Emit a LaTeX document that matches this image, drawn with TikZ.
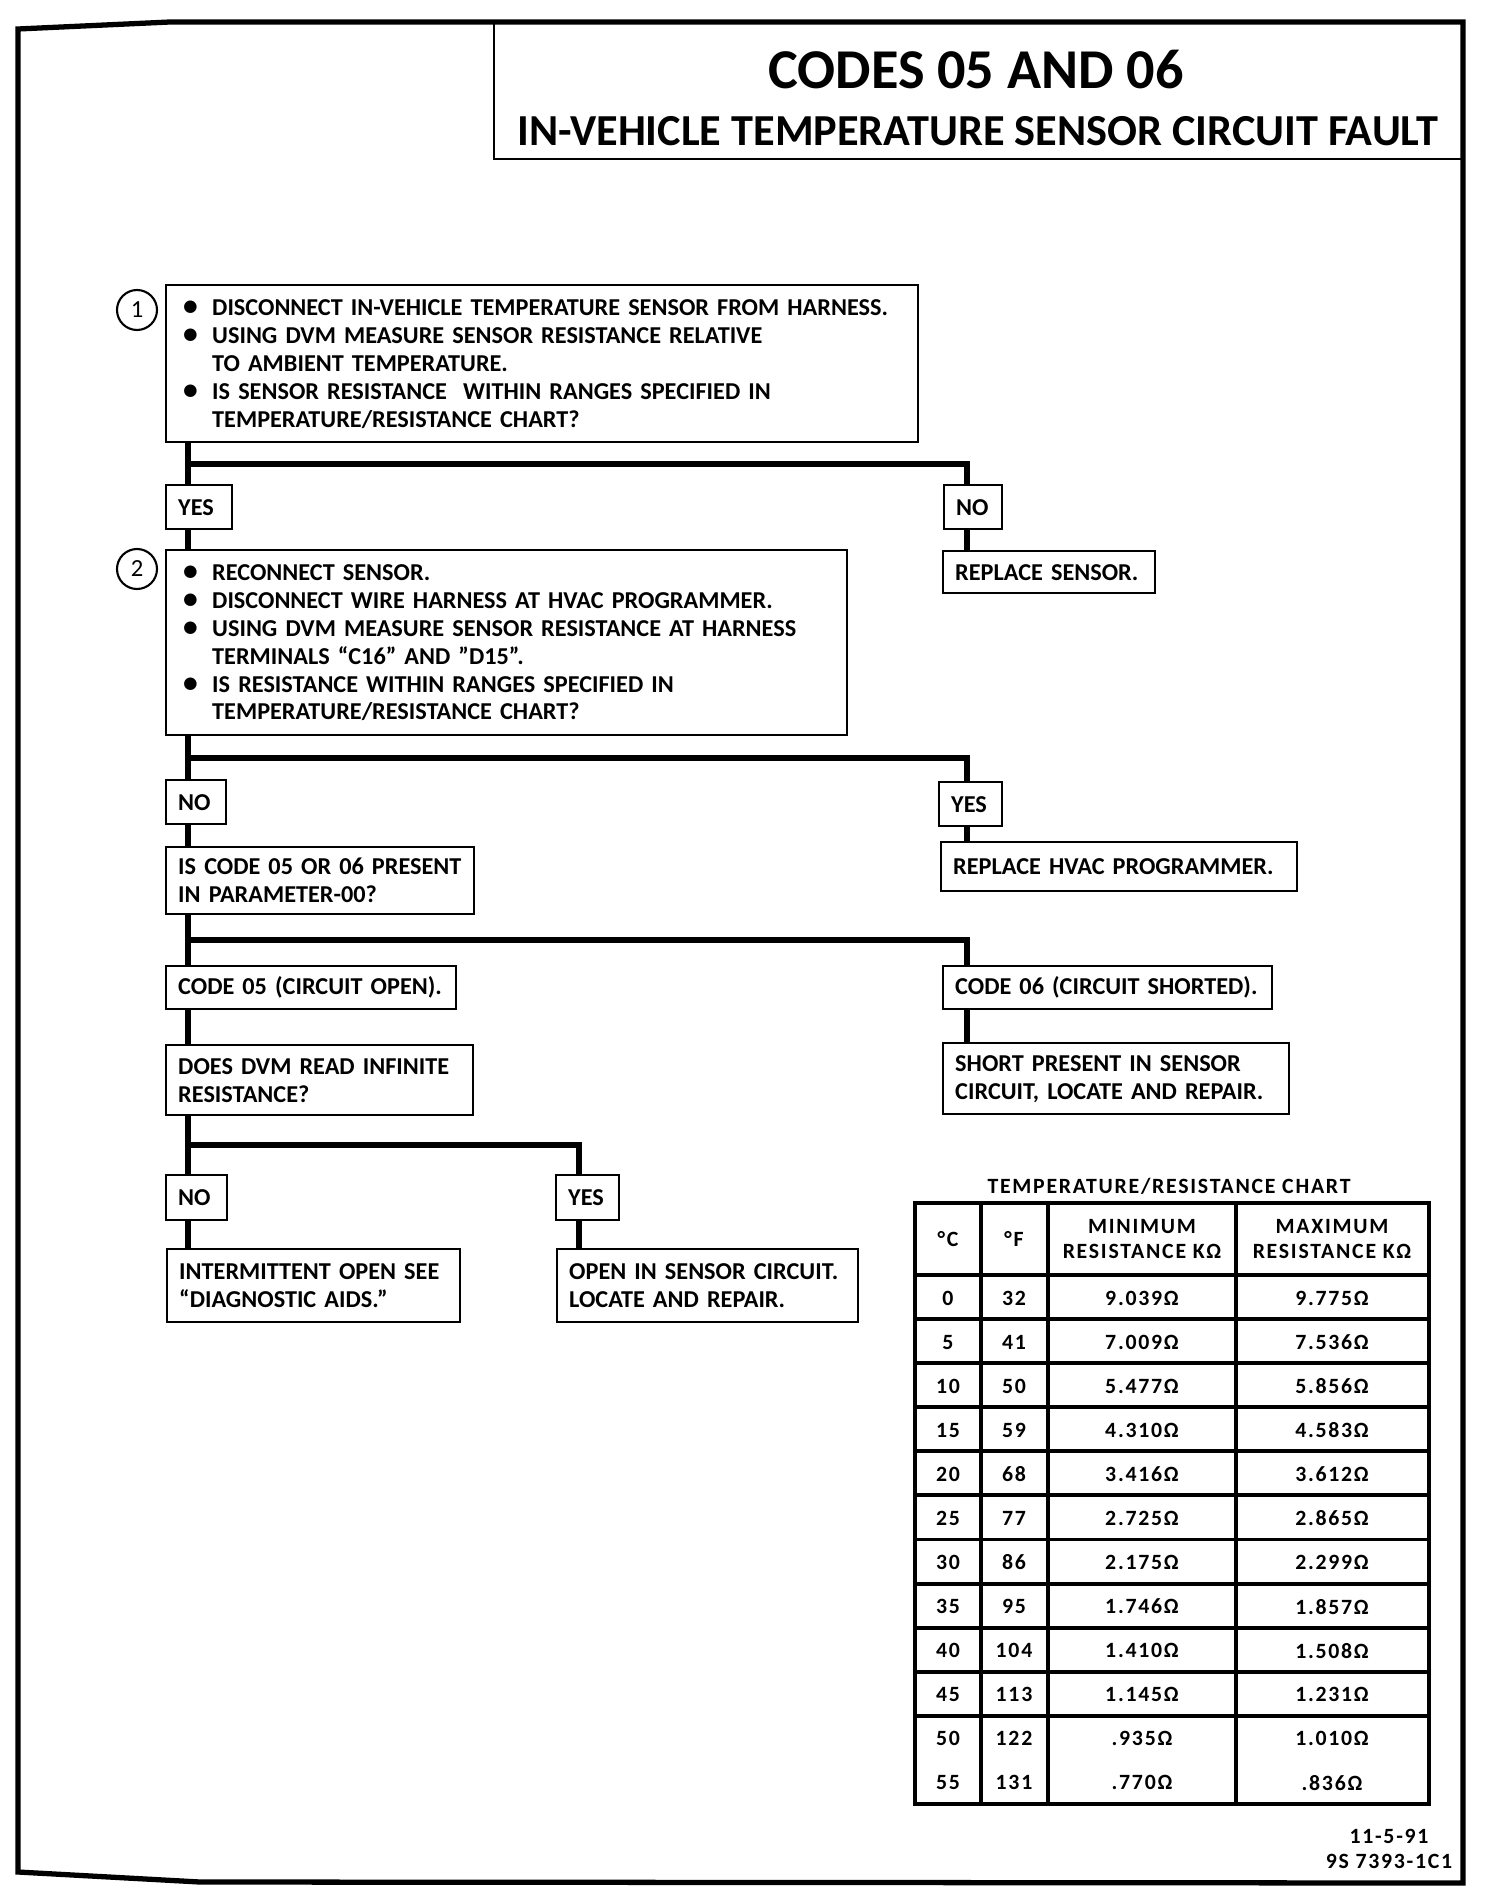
\documentclass[tikz,border=0pt]{standalone}
\usepackage{fontspec}
\setmainfont{Carlito}
\newfontfamily\chartfont[LetterSpace=8]{Carlito}
\usetikzlibrary{positioning, calc}

\newcommand{\boxfont}{\fontsize{6.9}{7.95}\selectfont\bfseries}
\newcommand{\bul}{\makebox[2.9mm][l]{\fontsize{8.4}{0}\selectfont\textbullet}}
\newcommand{\cont}{\hspace*{2.9mm}}

\begin{document}
\begin{tikzpicture}[
x=0.1mm, y=-0.1mm,
    box/.style={draw, line width=0.7pt, anchor=north west, align=left, inner xsep=1.2mm, inner ysep=0pt, font=\boxfont},
    listbox/.style={box, inner xsep=1.7mm},
    num/.style={circle, draw, line width=0.6pt, minimum size=4mm, inner sep=0pt, font=\fontsize{7}{8}\selectfont},
    link/.style={draw, line width=1.6pt},
    grid/.style={draw, line width=1.1pt},
    cell/.style={inner sep=0pt, align=center, font=\chartfont\fontsize{6.2}{7.1}\selectfont\bfseries}
]
    \useasboundingbox (0,0) rectangle (1504,1904);

    % Page frame and title
    \draw[line width=1.5pt] (18,29) -- (170,22) -- (1463,22) -- (1463,1883) -- (200,1882) -- (18,1872) -- cycle;
    \node[draw, line width=0.7pt, anchor=north west, minimum width=97mm, minimum height=13.6mm] (title) at (493,22) {};
    \node[font=\fontsize{16}{18}\selectfont\bfseries] (t1) at (976,70) {CODES 05 AND 06};
    \node[font=\fontsize{12.6}{14}\selectfont\bfseries] (t2) at (978,131) {IN-VEHICLE TEMPERATURE SENSOR CIRCUIT FAULT};

    % Step 1
    \node[num] (n1) at (137,310) {1};
    \node[listbox, text width=71.8mm, minimum height=15.7mm] (q1) at (165,284) {%
        \bul DISCONNECT IN-VEHICLE TEMPERATURE SENSOR FROM HARNESS.\\
        \bul USING DVM MEASURE SENSOR RESISTANCE RELATIVE\\
        \cont TO AMBIENT TEMPERATURE.\\
        \bul IS SENSOR RESISTANCE\ \ WITHIN RANGES SPECIFIED IN\\
        \cont TEMPERATURE/RESISTANCE CHART?};
    \node[box, text width=4.2mm, minimum height=4.4mm] (yes1) at (165,484) {YES};
    \node[box, text width=3.4mm, minimum height=4.4mm] (no1) at (943,484) {NO};
    \node[box, text width=18.8mm, minimum height=4.2mm] (fix1) at (942,550) {REPLACE SENSOR.};

    % Step 2
    \node[num] (n2) at (137,569) {2};
    \node[listbox, text width=64.7mm, minimum height=18.5mm] (q2) at (165,549) {%
        \bul RECONNECT SENSOR.\\
        \bul DISCONNECT WIRE HARNESS AT HVAC PROGRAMMER.\\
        \bul USING DVM MEASURE SENSOR RESISTANCE AT HARNESS\\
        \cont TERMINALS “C16” AND ”D15”.\\
        \bul IS RESISTANCE WITHIN RANGES SPECIFIED IN\\
        \cont TEMPERATURE/RESISTANCE CHART?};
    \node[box, text width=3.6mm, minimum height=4.4mm] (no2) at (165,779) {NO};
    \node[box, text width=3.9mm, minimum height=4.4mm] (yes2) at (938,781) {YES};
    \node[box, text width=28.4mm, minimum height=6.7mm] (q3) at (165,846) {IS CODE 05 OR 06 PRESENT\\IN PARAMETER-00?};
    \node[box, text width=33.2mm, minimum height=4.9mm] (fix2) at (940,841) {REPLACE HVAC PROGRAMMER.};

    % Code branches
    \node[box, text width=26.6mm, minimum height=4.3mm] (code05) at (165,965) {CODE 05 (CIRCUIT OPEN).};
    \node[box, text width=30.5mm, minimum height=4.3mm] (code06) at (942,965) {CODE 06 (CIRCUIT SHORTED).};
    \node[box, text width=28.3mm, minimum height=7.0mm] (q4) at (165,1044) {DOES DVM READ INFINITE\\RESISTANCE?};
    \node[box, text width=32.2mm, minimum height=7.1mm] (fix3) at (942,1042) {SHORT PRESENT IN SENSOR\\CIRCUIT, LOCATE AND REPAIR.};
    \node[box, text width=3.7mm, minimum height=4.5mm] (no3) at (165,1174) {NO};
    \node[box, text width=3.9mm, minimum height=4.5mm] (yes3) at (555,1174) {YES};
    \node[box, text width=26.9mm, minimum height=7.3mm] (fix4) at (166,1248) {INTERMITTENT OPEN SEE\\“DIAGNOSTIC AIDS.”};
    \node[box, text width=27.7mm, minimum height=7.3mm] (fix5) at (556,1248) {OPEN IN SENSOR CIRCUIT.\\LOCATE AND REPAIR.};

    % Connectors
    \coordinate (lt) at (188,0);
    \coordinate (mt) at (579,0);
    \coordinate (rt) at (967,0);
    \coordinate (b1) at ($(q1.south)!.5!(yes1.north)$);
    \coordinate (b2) at ($(q2.south)!.5!(no2.north)$);
    \coordinate (b3) at ($(q3.south)!.5!(code05.north)$);
    \coordinate (b4) at ($(q4.south)!.5!(no3.north)$);

    \draw[link] (q1.south -| lt) -- (yes1.north -| lt);
    \draw[link] (q1.south -| lt) |- (b1 -| rt) -- (no1.north -| rt);
    \draw[link] (yes1.south -| lt) -- (q2.north -| lt);
    \draw[link] (no1.south -| rt) -- (fix1.north -| rt);

    \draw[link] (q2.south -| lt) -- (no2.north -| lt);
    \draw[link] (q2.south -| lt) |- (b2 -| rt) -- (yes2.north -| rt);
    \draw[link] (no2.south -| lt) -- (q3.north -| lt);
    \draw[link] (yes2.south -| rt) -- (fix2.north -| rt);

    \draw[link] (q3.south -| lt) -- (code05.north -| lt);
    \draw[link] (q3.south -| lt) |- (b3 -| rt) -- (code06.north -| rt);
    \draw[link] (code05.south -| lt) -- (q4.north -| lt);
    \draw[link] (code06.south -| rt) -- (fix3.north -| rt);

    \draw[link] (q4.south -| lt) -- (no3.north -| lt);
    \draw[link] (q4.south -| lt) |- (b4 -| mt) -- (yes3.north -| mt);
    \draw[link] (no3.south -| lt) -- (fix4.north -| lt);
    \draw[link] (yes3.south -| mt) -- (fix5.north -| mt);

    % Temperature/resistance chart
    \node[cell] (chart) at (1169,1186) {TEMPERATURE/RESISTANCE CHART};
    \draw[grid, line width=1.4pt] (915,1203) rectangle (1429,1804);
    \foreach \gx in {981,1048,1236} \draw[grid] (\gx,1203) -- (\gx,1804);
    \foreach \k in {0,...,10} {
        \pgfmathsetmacro{\gy}{1275+44.08*\k}
        \draw[grid] (915,\gy) -- (1429,\gy);
    }
    \node[cell] (hc) at (948,1239) {°C};
    \node[cell] (hf) at (1014,1239) {°F};
    \node[cell] (hmin) at (1142,1239) {MINIMUM\\RESISTANCE KΩ};
    \node[cell] (hmax) at (1332,1239) {MAXIMUM\\RESISTANCE KΩ};
    \foreach \c/\f/\lo/\hi [count=\k from 0] in {0/32/9.039/9.775, 5/41/7.009/7.536, 10/50/5.477/5.856,
        15/59/4.310/4.583, 20/68/3.416/3.612, 25/77/2.725/2.865, 30/86/2.175/2.299, 35/95/1.746/1.857,
        40/104/1.410/1.508, 45/113/1.145/1.231, 50/122/.935/1.010, 55/131/.770/.836} {
        \pgfmathsetmacro{\ry}{1298+44.08*\k}
        \node[cell] (degc\k) at (948,\ry) {\c};
        \node[cell] (degf\k) at (1014,\ry) {\f};
        \node[cell] (rmin\k) at (1142,\ry) {\lo Ω};
        \node[cell] (rmax\k) at (1332,\ry) {\hi Ω};
    }

    % Drawing number
    \node[cell] (stamp) at (1389,1849) {11-5-91\\9S 7393-1C1};
\end{tikzpicture}
\end{document}
